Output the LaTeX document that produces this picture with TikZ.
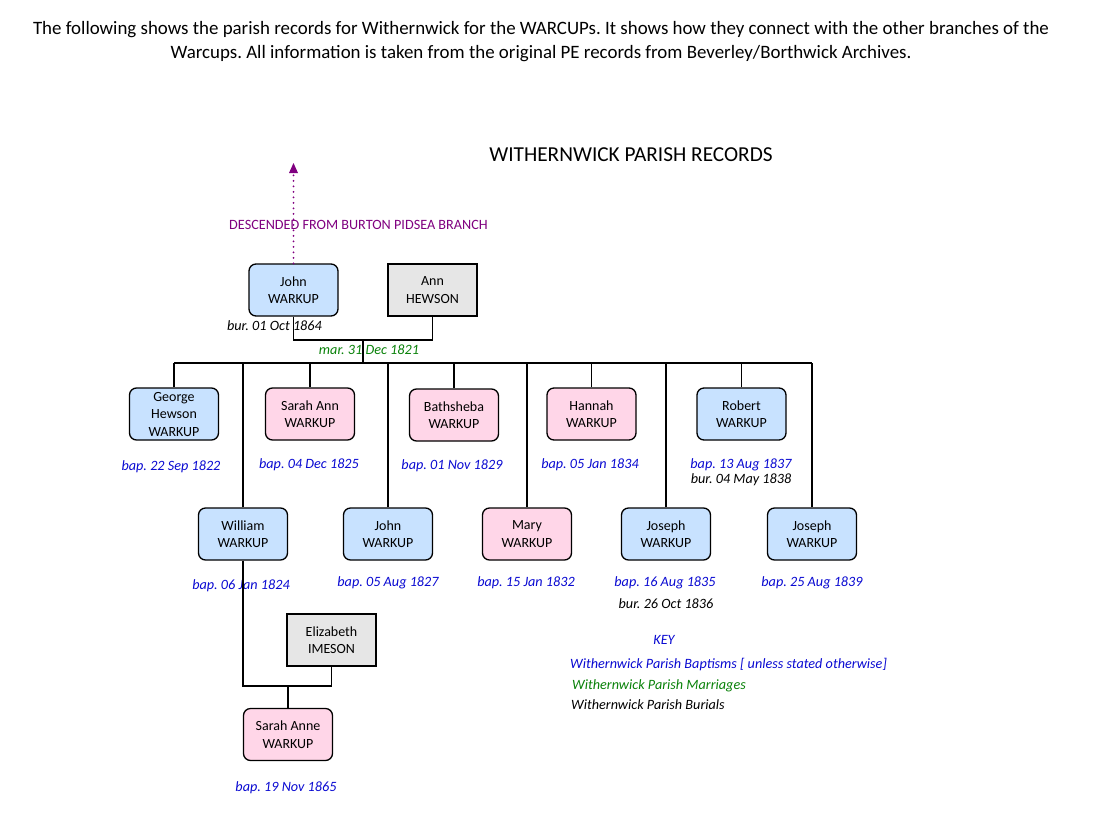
\documentclass[tikz,border=0pt]{standalone}
\usepackage{fontspec}
\setmainfont{Carlito}
\usetikzlibrary{arrows.meta}
\definecolor{bluefill}{RGB}{200,226,255}
\definecolor{pinkfill}{RGB}{255,214,232}
\definecolor{grayfill}{RGB}{230,230,230}
\definecolor{baptext}{RGB}{10,10,210}
\definecolor{martext}{RGB}{10,130,10}
\definecolor{descpurple}{RGB}{128,0,128}
\tikzset{
  person/.style={draw=black, line width=1.3pt, minimum width=89pt, minimum height=52pt, align=center, inner sep=1pt, font=\fontsize{14}{17.5}\selectfont},
  male/.style={person, rounded corners=7pt, fill=bluefill},
  female/.style={person, rounded corners=7pt, fill=pinkfill},
  spouse/.style={person, fill=grayfill},
  bap/.style={text=baptext, font=\fontsize{14.2}{16}\selectfont\itshape, inner sep=0pt},
  bur/.style={text=black, font=\fontsize{14.2}{16}\selectfont\itshape, inner sep=0pt},
  mar/.style={text=martext, font=\fontsize{14.2}{16}\selectfont\itshape, inner sep=0pt},
  link/.style={draw=black, line width=1.3pt},
}
\begin{document}
\frenchspacing
\begin{tikzpicture}[x=1pt,y=-1pt]
\useasboundingbox[fill=white] (0,0) rectangle (1120,815);
% header
\node[font=\fontsize{18.9}{24}\selectfont, align=center, inner sep=0pt] (hdr) at (541,42)
  {The following shows the parish records for Withernwick for the WARCUPs. It shows how they connect with the other branches of the\\
   Warcups. All information is taken from the original PE records from Beverley/Borthwick Archives.};
\node[font=\fontsize{21.3}{24}\selectfont, inner sep=0pt] (title) at (631,155) {WITHERNWICK PARISH RECORDS};
% parents
\node[male] (john) at (293.5,290) {John\\WARKUP};
\node[spouse] (ann) at (432.5,290) {Ann\\HEWSON};
\coordinate (up) at (293.5,163);
\coordinate (upbase) at (293.5,173);
\draw[descpurple, line width=2pt, line cap=round, dash pattern=on 0pt off 5.5pt] (john.north) -- (upbase);
\draw[descpurple, -{Triangle[width=9pt,length=10pt,line width=0pt]}] (upbase) -- (up);
\node[text=descpurple, font=\fontsize{14.2}{16}\selectfont, inner sep=0pt] (desc) at (358.5,225) {DESCENDED FROM BURTON PIDSEA BRANCH};
\node[bur, anchor=east] (jbur) at (322,326) {bur. 01 Oct 1864};
\coordinate (m1) at (363,340);
\coordinate (sib) at (363,363);
\draw[link] (john.south) |- (m1) -| (ann.south);
\draw[link] (m1) -- (sib);
\node[mar] (jmar) at (369,350) {mar. 31 Dec 1821};
% children row 1
\node[male] (george) at (174,414) {George\\Hewson\\WARKUP};
\node[female] (sarah) at (310,414) {Sarah Ann\\WARKUP};
\node[female] (bath) at (454,415) {Bathsheba\\WARKUP};
\node[female] (hannah) at (591.5,414) {Hannah\\WARKUP};
\node[male] (robert) at (741.5,414) {Robert\\WARKUP};
% children row 2
\node[male] (william) at (243,534) {William\\WARKUP};
\node[male] (john2) at (388,534) {John\\WARKUP};
\node[female] (mary) at (527,534) {Mary\\WARKUP};
\node[male] (joseph) at (666,534) {Joseph\\WARKUP};
\node[male] (joseph2) at (812,534) {Joseph\\WARKUP};
% sibling bar
\draw[link] (george.north |- sib) -- (joseph2.north |- sib);
\foreach \c in {george,sarah,bath,hannah,robert,william,john2,mary,joseph,joseph2}
  \draw[link] (\c.north) -- (\c.north |- sib);
% dates
\node[bap] (b1) at (171,467) {bap. 22 Sep 1822};
\node[bap] (b2) at (309,465) {bap. 04 Dec 1825};
\node[bap] (b3) at (452,466) {bap. 01 Nov 1829};
\node[bap] (b4) at (590,465) {bap. 05 Jan 1834};
\node[bap] (b5) at (741,465) {bap. 13 Aug 1837};
\node[bur] (r5) at (741,480) {bur. 04 May 1838};
\node[bap] (b6) at (241,586) {bap. 06 Jan 1824};
\node[bap] (b7) at (388,583) {bap. 05 Aug 1827};
\node[bap] (b8) at (526,583) {bap. 15 Jan 1832};
\node[bap] (b9) at (665,583) {bap. 16 Aug 1835};
\node[bur] (r9) at (666,604) {bur. 26 Oct 1836};
\node[bap] (b10) at (812,583) {bap. 25 Aug 1839};
% William's family
\node[spouse] (eliz) at (331.5,640) {Elizabeth\\IMESON};
\coordinate (m2) at (288,686);
\draw[link] (william.south) |- (m2) -| (eliz.south);
\node[female] (sarahanne) at (288,734.5) {Sarah Anne\\WARKUP};
\draw[link] (m2) -- (sarahanne.north);
\node[bap] (b11) at (286,788) {bap. 19 Nov 1865};
% key
\node[bap] (key) at (664,640) {KEY};
\node[bap, anchor=west] (k1) at (570,665) {Withernwick Parish Baptisms [ unless stated otherwise]};
\node[mar, anchor=west] (k2) at (572,686) {Withernwick Parish Marriages};
\node[bur, anchor=west] (k3) at (571,705) {Withernwick Parish Burials};
\end{tikzpicture}
\end{document}
